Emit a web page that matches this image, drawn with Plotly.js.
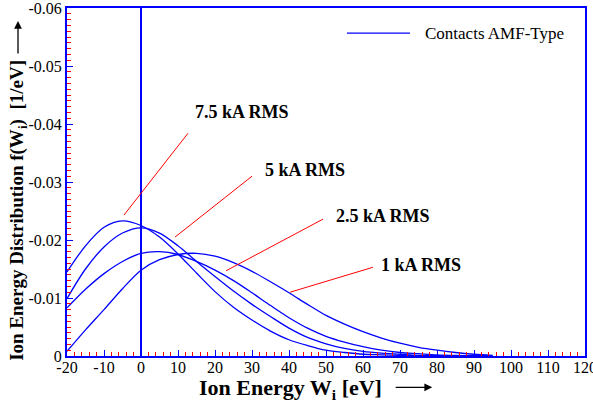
<!DOCTYPE html>
<html>
<head>
<meta charset="utf-8">
<script src="https://cdn.plot.ly/plotly-3.0.1.min.js"></script>
<style>html,body{margin:0;padding:0;background:#fff}#chart{width:593px;height:407px}</style>
</head>
<body>
<div id="chart"></div>
<script>
// Ion energy W_i [eV]
const energy = [-20,-15,-10,-5,0,5,10,15,20,25,30,35,40,45,50,55,60,65,70,75,80,85,90,95];
// f(W_i) [1/eV] for each current (plotted as negative values, as in the original)
const f1kA   = [-0.0008,-0.0045,-0.0080,-0.0116,-0.0148,-0.0166,-0.0175,-0.0177,-0.0172,-0.0161,-0.0146,-0.0128,-0.0109,-0.0089,-0.0070,-0.0055,-0.0042,-0.0031,-0.0022,-0.0015,-0.0010,-0.0006,-0.0003,-0.0001];
const f2_5kA = [-0.0083,-0.0115,-0.0142,-0.0163,-0.0177,-0.0180,-0.0175,-0.0163,-0.0148,-0.0130,-0.0109,-0.0087,-0.0066,-0.0048,-0.0034,-0.0024,-0.0016,-0.0010,-0.0006,-0.0004,-0.0002,-0.0001,-0.00005,0];
const f5kA   = [-0.0099,-0.0150,-0.0188,-0.0212,-0.0221,-0.0212,-0.0190,-0.0163,-0.0137,-0.0112,-0.0089,-0.0068,-0.0048,-0.0032,-0.0021,-0.0013,-0.0008,-0.0005,-0.0003,-0.0001,-0.00005,0,0,0];
const f7_5kA = [-0.0145,-0.0190,-0.0222,-0.0233,-0.0225,-0.0205,-0.0176,-0.0143,-0.0111,-0.0084,-0.0062,-0.0043,-0.0028,-0.0018,-0.0010,-0.0006,-0.0003,-0.0002,-0.0001,-0.00005,0,0,0,0];
const seriesNames = ['1 kA RMS','2.5 kA RMS','5 kA RMS','7.5 kA RMS'];
const legendName = 'Contacts AMF-Type';

// tick labels
const xTickVals = [-20,-10,0,10,20,30,40,50,60,70,80,90,100,110,120];
const xTickText = ['-20','-10','0','10','20','30','40','50','60','70','80','90','100','110','120'];
const yTickVals = [0,-0.01,-0.02,-0.03,-0.04,-0.05,-0.06];
const yTickText = ['0','-0.01','-0.02','-0.03','-0.04','-0.05','-0.06'];

// curve labels (text position) and leader lines (start -> point on curve)
const labelText = ['7.5 kA RMS','5 kA RMS','2.5 kA RMS','1 kA RMS'];
const labelX = [27.3,44.3,65.4,75.7];
const labelY = [-0.0421,-0.0321,-0.0241,-0.0157];
const leadFromX = [12.7,30.0,49.2,62.7];
const leadFromY = [-0.0384,-0.0310,-0.0236,-0.0153];
const leadToX = [-4.6,9.2,23.0,40.3];
const leadToY = [-0.0243,-0.0205,-0.0147,-0.0110];

const serif = "'Liberation Serif', 'Times New Roman', Times, serif";
const blue = '#0000ff';
const allSeries = [f1kA, f2_5kA, f5kA, f7_5kA];
const traces = allSeries.map((ys, i) => ({
  x: energy, y: ys, type: 'scatter', mode: 'lines',
  name: legendName, legendgroup: 'amf', showlegend: false,
  line: {color: blue, width: 1.3, shape: 'spline', smoothing: 0.9},
  hovertext: seriesNames[i]
}));

const annotations = labelText.map((t, i) => ({
  x: labelX[i], y: labelY[i], xref: 'x', yref: 'y', text: '<b>' + t + '</b>',
  showarrow: false, font: {family: serif, size: 18, color: '#000'}
}));
// legend text
annotations.push({
  xref: 'paper', yref: 'paper', x: 0.687, y: 0.928, xanchor: 'left', yanchor: 'middle',
  text: legendName, showarrow: false, font: {family: serif, size: 17, color: '#000'}
});
// axis titles with arrows
annotations.push({
  xref: 'paper', yref: 'paper', x: 0.432, y: -0.095, xanchor: 'center', yanchor: 'middle',
  text: '<b>Ion Energy W<sub>i</sub> [eV]</b>', showarrow: false,
  font: {family: serif, size: 22, color: '#000'}
});
annotations.push({
  xref: 'paper', yref: 'paper', x: 0.705, y: -0.090, text: '',
  showarrow: true, ax: -38, ay: 0, arrowhead: 2, arrowsize: 1.2, arrowwidth: 1.3, arrowcolor: '#000'
});
annotations.push({
  xref: 'paper', yref: 'paper', x: -0.0946, y: 0.42, xanchor: 'center', yanchor: 'middle', textangle: -90,
  text: '<b>Ion Energy Distribution f(W<sub>i</sub>)  [1/eV]</b>', showarrow: false,
  font: {family: serif, size: 19, color: '#000'}
});
annotations.push({
  xref: 'paper', yref: 'paper', x: -0.0946, y: 0.963, text: '',
  showarrow: true, ax: 0, ay: 34, arrowhead: 2, arrowsize: 1.2, arrowwidth: 1.3, arrowcolor: '#000'
});

const shapes = leadFromX.map((x0, i) => ({
  type: 'line', xref: 'x', yref: 'y', x0: x0, y0: leadFromY[i], x1: leadToX[i], y1: leadToY[i],
  line: {color: '#ff0000', width: 1}
}));
// legend sample line
shapes.push({type: 'line', xref: 'paper', yref: 'paper', x0: 0.5405, x1: 0.662, y0: 0.928, y1: 0.928,
             line: {color: blue, width: 1.3}});

const layout = {
  width: 593, height: 407,
  margin: {l: 67, r: 8, t: 8, b: 51},
  paper_bgcolor: '#fff', plot_bgcolor: '#fff',
  font: {family: serif, size: 16, color: '#000'},
  showlegend: false,
  xaxis: {
    range: [-20, 120], showgrid: false, zeroline: true, zerolinecolor: blue, zerolinewidth: 2,
    showline: true, linecolor: blue, linewidth: 2, mirror: true,
    tickmode: 'array', tickvals: xTickVals, ticktext: xTickText, ticklabeloverflow: 'allow',
    ticklabelstandoff: -4,
    ticks: 'inside', ticklen: 6, tickcolor: blue, tickwidth: 1,
    tickfont: {family: serif, size: 16, color: '#000'},
    minor: {ticks: 'inside', tickmode: 'linear', tick0: -20, dtick: 2, ticklen: 4, tickcolor: '#ff0000', tickwidth: 1, showgrid: false}
  },
  yaxis: {
    range: [0, -0.06], showgrid: false, zeroline: true, zerolinecolor: blue, zerolinewidth: 3,
    showline: true, linecolor: blue, linewidth: 2, mirror: true,
    tickmode: 'array', tickvals: yTickVals, ticktext: yTickText, ticklabeloverflow: 'allow',
    ticks: 'inside', ticklen: 6, tickcolor: blue, tickwidth: 1,
    tickfont: {family: serif, size: 16, color: '#000'},
    minor: {ticks: 'inside', tickmode: 'linear', tick0: 0, dtick: 0.001, ticklen: 4, tickcolor: '#ff0000', tickwidth: 1, showgrid: false}
  },
  annotations: annotations,
  shapes: shapes
};

Plotly.newPlot('chart', traces, layout, {displayModeBar: false, staticPlot: true});
</script>
</body>
</html>
